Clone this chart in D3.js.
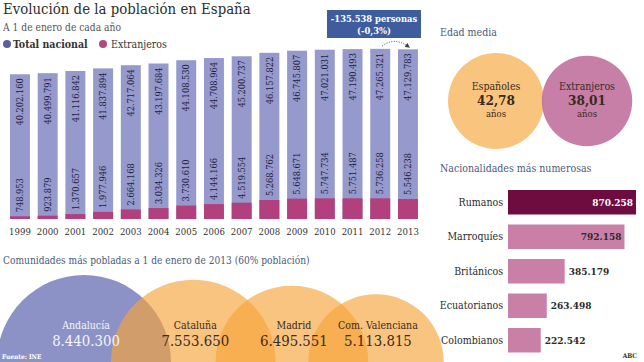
<!DOCTYPE html>
<html><head><meta charset="utf-8">
<script src="https://cdn.jsdelivr.net/npm/d3@7"></script>
<style>
body{margin:0;background:#fff;}
text{font-family:"DejaVu Serif Condensed","DejaVu Serif",serif;}
</style></head>
<body><svg id="c" width="644" height="362"></svg>
<script>
// ---------- DATA ----------
const years = [1999,2000,2001,2002,2003,2004,2005,2006,2007,2008,2009,2010,2011,2012,2013];
const totals = [40202160,40499791,41116842,41837894,42717064,43197684,44108530,44708964,45200737,46157822,46745807,47021031,47190493,47265321,47129783];
const foreigners = [748953,923879,1370657,1977946,2664168,3034326,3730610,4144166,4519554,5268762,5648671,5747734,5751487,5736258,5546238];
const legendLabels = ["Total nacional","Extranjeros"];
const annotationLines = ["-135.538 personas","(-0,3%)"];

const ageGroups = ["Españoles","Extranjeros"];
const ageValues = [42.78, 38.01];

const nationalities = ["Rumanos","Marroquíes","Británicos","Ecuatorianos","Colombianos"];
const nationalityValues = [870258,792158,385179,263498,222542];

const regions = ["Andalucía","Cataluña","Madrid","Com. Valenciana"];
const regionPops = [8440300,7553650,6495551,5113815];

// ---------- SETUP ----------
const loc = d3.formatLocale({decimal:",",thousands:".",grouping:[3],currency:["","€"]});
const fmt = loc.format(",d");
const fmtDec = loc.format(",.2f");
const svg = d3.select("#c");

const C = {
  barBlue:"#9599cb", barPink:"#b2407c", dotBlue:"#5b5f9f", dotPink:"#b04a7e",
  box:"#3f5d9c", head:"#4b5a7a", text:"#2a2a2a",
  orange:"#f6a53a", circBlue:"#8d92c6", ageOrange:"#f9c47e", agePink:"#c3749f",
  rum:"#6e0c40", nat:"#c97fa6"
};

// ---------- TITLE ----------
svg.append("text").attr("x",3).attr("y",14).attr("font-size",14.8).attr("fill","#2e2e2e")
  .text("Evolución de la población en España");
svg.append("text").attr("x",3).attr("y",31).attr("font-size",10.2).attr("fill","#555")
  .text("A 1 de enero de cada año");
// legend
const lg = svg.append("g");
[[7,C.dotBlue,legendLabels[0],"bold",13],[103,C.dotPink,legendLabels[1],"normal",111]].forEach(d=>{
  lg.append("circle").attr("cx",d[0]).attr("cy",44).attr("r",4).attr("fill",d[1]);
  lg.append("text").attr("x",d[4]).attr("y",47.5).attr("font-size",10.5).attr("font-weight",d[3])
    .attr("fill","#333").text(d[2]);
});

// ---------- COLUMN CHART ----------
const x = d3.scaleBand().domain(years).range([6.1,421.8]).paddingInner(0.28).paddingOuter(0.14);
const y = d3.scaleLinear().domain([0,50000000]).range([219,39]);

const bars = svg.append("g");
years.forEach((yr,i)=>{
  bars.append("rect").attr("x",x(yr)).attr("width",x.bandwidth())
    .attr("y",y(totals[i])).attr("height",y(0)-y(totals[i])).attr("fill",C.barBlue);
  bars.append("rect").attr("x",x(yr)).attr("width",x.bandwidth())
    .attr("y",y(foreigners[i])).attr("height",y(0)-y(foreigners[i])).attr("fill",C.barPink);
  const cx = x(yr)+x.bandwidth()/2;
  bars.append("text").attr("transform",`translate(${cx},${y(totals[i])+4}) rotate(-90)`)
    .attr("text-anchor","end").attr("dy","0.35em").attr("font-size",9.2).attr("fill","#1e2040")
    .text(fmt(totals[i]));
  bars.append("text").attr("transform",`translate(${cx},${y(foreigners[i])-4}) rotate(-90)`)
    .attr("text-anchor","start").attr("dy","0.35em").attr("font-size",9.2).attr("fill","#1e2040")
    .text(fmt(foreigners[i]));
});
const xAxis = svg.append("g").attr("transform","translate(0,228)")
  .call(d3.axisBottom(x).tickSize(0).tickPadding(0));
xAxis.select(".domain").remove();
xAxis.selectAll("text").attr("font-size",9.5).attr("fill","#333").attr("dy","0.71em")
  .style("font-family",'"DejaVu Serif Condensed","DejaVu Serif",serif');

// annotation
const last = years.length-1;
const bx = x(years[last-1])+x.bandwidth()/2, ex = x(years[last])+x.bandwidth()/2;
svg.append("rect").attr("x",327).attr("y",10).attr("width",94).attr("height",28).attr("fill",C.box);
annotationLines.forEach((t,i)=>{
  svg.append("text").attr("x",374).attr("y",21.5+i*12).attr("text-anchor","middle")
    .attr("font-size",9.3).attr("font-weight","bold").attr("fill","#fff").text(t);
});
svg.append("defs").append("marker").attr("id","ar").attr("viewBox","0 0 6 6").attr("refX",3).attr("refY",3)
  .attr("markerWidth",5).attr("markerHeight",5).attr("orient","auto")
  .append("path").attr("d","M0,0L6,3L0,6Z").attr("fill","#444");
svg.append("path")
  .attr("d",`M${bx+2},${y(totals[last-1])-3} Q${(bx+ex)/2},${y(totals[last-1])-12} ${ex},${y(totals[last])-3}`)
  .attr("fill","none").attr("stroke","#444").attr("stroke-width",1).attr("stroke-dasharray","1,1.5")
  .attr("marker-end","url(#ar)");

// ---------- EDAD MEDIA ----------
svg.append("text").attr("x",440).attr("y",36).attr("font-size",10.5).attr("fill",C.head).text("Edad media");
const rAge = d3.scaleSqrt().domain([0,d3.max(ageValues)]).range([0,48]);
const ageCx = [496, 587], ageFill=[C.ageOrange,C.agePink], ageOp=[1,0.92];
ageGroups.forEach((g,i)=>{
  svg.append("circle").attr("cx",ageCx[i]).attr("cy",101).attr("r",rAge(ageValues[i]))
    .attr("fill",ageFill[i]).attr("opacity",ageOp[i]);
});
ageGroups.forEach((g,i)=>{
  const t = svg.append("g").attr("fill","#3a2a1e").attr("text-anchor","middle");
  t.append("text").attr("x",ageCx[i]).attr("y",90).attr("font-size",10.5).text(g);
  t.append("text").attr("x",ageCx[i]).attr("y",104.5).attr("font-size",13.5).attr("font-weight","bold").text(fmtDec(ageValues[i]));
  t.append("text").attr("x",ageCx[i]).attr("y",117).attr("font-size",9.5).text("años");
});

// ---------- NACIONALIDADES ----------
svg.append("text").attr("x",440).attr("y",172).attr("font-size",10.5).attr("fill",C.head).text("Nacionalidades más numerosas");
const yN = d3.scaleBand().domain(nationalities).range([185,357.5]).paddingInner(0.29).paddingOuter(0.145);
const xN = d3.scaleLinear().domain([0,850000]).range([508,633]);
nationalities.forEach((n,i)=>{
  const w = xN(nationalityValues[i])-xN(0);
  svg.append("rect").attr("x",xN(0)).attr("y",yN(n)).attr("width",w).attr("height",yN.bandwidth())
    .attr("fill",i===0?C.rum:C.nat);
  const cy = yN(n)+yN.bandwidth()/2;
  svg.append("text").attr("x",503).attr("y",cy).attr("dy","0.35em").attr("text-anchor","end")
    .attr("font-size",10.5).attr("fill","#2a2a2a").text(n);
  const inside = w>80;
  svg.append("text").attr("x",inside?xN(nationalityValues[i])-3:xN(nationalityValues[i])+4)
    .attr("y",cy).attr("dy","0.35em").attr("text-anchor",inside?"end":"start")
    .attr("font-size",10).attr("font-weight","bold").attr("fill",i===0?"#fff":"#2a2a2a")
    .text(fmt(nationalityValues[i]));
});
svg.append("text").attr("x",637).attr("y",358).attr("text-anchor","end").attr("font-size",6.5)
  .attr("font-weight","bold").attr("fill","#333").text("ABC");

// ---------- COMUNIDADES ----------
svg.append("text").attr("x",3).attr("y",264).attr("font-size",10.1).attr("fill",C.head)
  .text("Comunidades más pobladas a 1 de enero de 2013 (60% población)");
const rR = d3.scaleSqrt().domain([0,d3.max(regionPops)]).range([0,87]);
const overlap = 60;
const rcx = [];
regionPops.forEach((p,i)=>{
  rcx.push(i===0 ? 84 : rcx[i-1]+rR(regionPops[i-1])+rR(p)-overlap);
});
regions.forEach((r,i)=>{
  svg.append("circle").attr("cx",rcx[i]).attr("cy",362).attr("r",rR(regionPops[i]))
    .attr("fill",i===0?C.circBlue:C.orange).attr("fill-opacity",i===0?1:0.65);
});
regions.forEach((r,i)=>{
  const col = i===0?"#f4f4fa":"#3a2a1e";
  svg.append("text").attr("x",rcx[i]+2).attr("y",329).attr("text-anchor","middle").attr("font-size",10.5)
    .attr("fill",col).text(r);
  svg.append("text").attr("x",rcx[i]+2).attr("y",346).attr("text-anchor","middle").attr("font-size",14.8)
    .attr("fill",col).text(fmt(regionPops[i]));
});
svg.append("text").attr("x",2).attr("y",359).attr("font-size",6.5).attr("font-weight","bold")
  .attr("fill","#fff").text("Fuente: INE");
</script></body></html>
